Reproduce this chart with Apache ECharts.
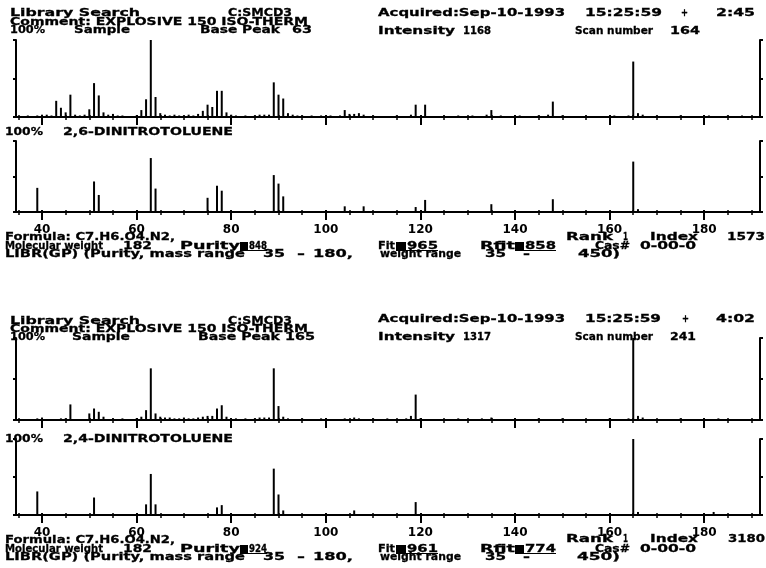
<!DOCTYPE html>
<html><head><meta charset="utf-8">
<script src="https://cdn.jsdelivr.net/npm/echarts@6/dist/echarts.min.js"></script>
<style>html,body{margin:0;padding:0;background:#fff}#c{width:766px;height:568px}</style>
</head><body><div id="c"></div>
<script>
// ---- data: sample scan 164 ----
const mzSample1 = [37,39,40,41,42,43,44,45,46,47,48,49,50,51,52,53,54,55,56,57,60,61,62,63,64,65,66,67,68,69,70,71,72,73,74,75,76,77,78,79,80,81,83,85,86,87,88,89,90,91,92,93,94,95,97,99,101,103,104,105,106,107,108,110,115,118,119,121,125,128,131,134,135,137,141,145,147,148,150,155,161,164,165,166,167,170,175,181,185,188];
const intSample1 = [2,2,3,3,2,21,12,6,29,3,2,3,10,44,28,6,3,4,2,2,2,9,23,100,26,5,3,2,3,2,2,3,2,4,8,16,13,34,34,6,3,2,2,2,3,3,3,45,29,24,5,3,2,2,2,2,2,2,9,4,4,5,3,2,2,3,16,16,2,2,2,3,9,2,2,2,3,20,2,2,2,2,72,5,3,2,2,2,2,2];
// ---- data: library 2,6-dinitrotoluene ----
const mzLib1 = [39,51,52,63,64,75,77,78,89,90,91,104,108,119,121,135,148,165,166];
const intLib1 = [34,43,24,76,33,20,37,30,52,40,22,8,8,7,17,11,18,71,4];
// ---- data: sample scan 241 ----
const mzSample2 = [39,40,44,45,46,50,51,52,53,55,57,60,61,62,63,64,65,66,67,68,69,70,71,72,73,74,75,76,77,78,79,81,83,85,86,87,88,89,90,91,92,95,99,104,106,107,110,113,117,118,119,120,128,133,135,145,150,160,164,165,166,167,175,183];
const intSample2 = [2,3,2,2,19,8,14,10,4,2,2,2,4,12,63,8,4,3,3,2,2,3,2,2,3,4,5,5,14,18,4,2,2,2,3,3,3,63,17,4,2,2,2,2,3,2,2,2,2,5,31,2,2,2,3,2,2,2,2,100,5,3,2,2];
// ---- data: library 2,4-dinitrotoluene ----
const mzLib2 = [39,51,62,63,64,77,78,89,90,91,106,119,165,166,182];
const intLib2 = [31,23,14,54,14,10,13,61,27,6,6,17,100,4,4];

const majorTicks = [40,60,80,100,120,140,160,180];
const minorTicks = [35,45,50,55,65,70,75,85,90,95,105,110,115,125,130,135,145,150,155,165,170,175,185,190];
const yTicks = [0,50,100];

// ---- layout ----
const X_MIN = 34.5, X_MAX = 191.8;
const panels = [
  {top:40,  h:77, labels:false, mz:mzSample1, it:intSample1},
  {top:141, h:71, labels:true,  mz:mzLib1,    it:intLib1},
  {top:338, h:82, labels:false, mz:mzSample2, it:intSample2},
  {top:439, h:76, labels:true,  mz:mzLib2,    it:intLib2}
];
const FONT = "bold 11px 'DejaVu Sans'";

const texts = [
  ["Library Search",10,140,13.5],["C:SMCD3",228,292,13.5],
  ["Acquired:Sep-10-1993",378,565,13.5],["15:25:59",585,662,13.5],["+",681,688,13.5],["2:45",716,755,13.5],
  ["Comment: EXPLOSIVE 150 ISO-THERM",10,308,22],
  ["100%",10,45,30.5],["Sample",74,130,30.5],["Base Peak",200,280,30.5],["63",292,312,30.5],
  ["Intensity",378,455,31],["1168",463,491,31],["Scan number",575,653,31],["164",670,700,31],

  ["100%",5,43,132],["2,6-DINITROTOLUENE",63,233,132],
  ["Formula: C7.H6.O4.N2,",5,175,237.5],["Rank",566,613,237.5],["1",623,628,237.5],["Index",650,698,237.5],["1573",727,765,237.5],
  ["Molecular weight",5,103,246],["182",123,152,246],["Purity",180,240,246],["Fit",378,395,246],["Rfit",480,515,246],["Cas#",595,630,246],["0-00-0",640,696,246],
  ["LIBR(GP) (Purity, mass range",5,245,254],["35",263,285,254],["-",297,305,254],["180,",313,353,254],
  ["weight range",380,461,254],["35",485,506,254],["-",523,530,254],["450)",578,620,254],

  ["Library Search",10,140,321],["C:SMCD3",228,292,321],
  ["Acquired:Sep-10-1993",378,565,319.5],["15:25:59",585,661,319.5],["+",682,689,319.5],["4:02",716,755,319.5],
  ["Comment: EXPLOSIVE 150 ISO-THERM",10,308,329],
  ["100%",10,45,337],["Sample",72,130,337],["Base Peak",198,280,337],["165",285,315,337],
  ["Intensity",378,455,337],["1317",463,491,337],["Scan number",575,653,337],["241",670,696,337],

  ["100%",5,43,438.7],["2,4-DINITROTOLUENE",63,233,438.7],
  ["Formula: C7.H6.O4.N2,",5,175,540.5],["Rank",566,613,539],["1",623,628,539],["Index",650,698,539],["3180",728,765,539],
  ["Molecular weight",5,103,549],["182",123,152,549],["Purity",180,240,549],["Fit",378,395,549],["Rfit",480,515,549],["Cas#",595,630,549],["0-00-0",640,696,549],
  ["LIBR(GP) (Purity, mass range",5,245,557.5],["35",263,285,557.5],["-",297,305,557.5],["180,",313,353,557.5],
  ["weight range",380,461,557.5],["35",485,506,557.5],["-",523,530,557.5],["450)",577,620,557.5]
];
// highlighted score boxes: [text, blockX0, blockX1, textX1, yCenter]
const boxes = [
  ["848",240,248,267,246],["965",396,406,438,246],["858",515,524,556,246],
  ["924",240,248,267,549],["961",396,406,438,549],["774",515,524,556,549]
];

const mctx = document.createElement('canvas').getContext('2d');
function measure(s){ mctx.font = FONT; return mctx.measureText(s).width; }
function textEl(s,x0,x1,y){
  const w = measure(s);
  return {type:'text', x:x0, y:y, scaleX:(x1-x0)/w, silent:true,
    style:{text:s, font:FONT, fill:'#000', stroke:'#000', lineWidth:0.3, align:'left', verticalAlign:'middle'}};
}
const graphic = [];
texts.forEach(t=>graphic.push(textEl(t[0],t[1],t[2],t[3])));
boxes.forEach(b=>{
  graphic.push({type:'rect', silent:true, shape:{x:b[1], y:b[4]-4, width:b[2]-b[1], height:8}, style:{fill:'#000'}});
  graphic.push(textEl(b[0], b[2]+1, b[3], b[4]));
  graphic.push({type:'line', silent:true, shape:{x1:b[1], y1:b[4]+4.5, x2:b[3], y2:b[4]+4.5}, style:{stroke:'#000', lineWidth:1}});
});

const grid=[], xAxis=[], yAxis=[], series=[];
panels.forEach((p,i)=>{
  grid.push({left:16, top:p.top, width:744, height:p.h});
  xAxis.push({type:'value', gridIndex:i, position:'bottom', min:X_MIN, max:X_MAX,
    axisLine:{show:true, onZero:false, lineStyle:{color:'#000', width:2}},
    axisTick:{show:false}, splitLine:{show:false},
    axisLabel:{show:p.labels, customValues:majorTicks, margin:12, color:'#000',
      fontFamily:'DejaVu Sans', fontWeight:'bold', fontSize:12}});
  xAxis.push({type:'value', gridIndex:i, position:'bottom', min:X_MIN, max:X_MAX, offset:-2,
    axisLine:{show:false, onZero:false}, splitLine:{show:false}, axisLabel:{show:false},
    axisTick:{show:true, inside:false, customValues:majorTicks, length:10, lineStyle:{color:'#000', width:2}}});
  xAxis.push({type:'value', gridIndex:i, position:'bottom', min:X_MIN, max:X_MAX, offset:-2,
    axisLine:{show:false, onZero:false}, splitLine:{show:false}, axisLabel:{show:false},
    axisTick:{show:true, inside:false, customValues:minorTicks, length:5, lineStyle:{color:'#000', width:1.5}}});
  ['left','right'].forEach(pos=>{
    yAxis.push({type:'value', gridIndex:i, min:0, max:100, position:pos,
      axisLine:{show:true, onZero:false, lineStyle:{color:'#000', width:2}},
      axisTick:{show:true, customValues:yTicks, length:3, lineStyle:{color:'#000', width:2}},
      axisLabel:{show:false}, splitLine:{show:false}});
  });
  series.push({type:'bar', xAxisIndex:3*i, yAxisIndex:2*i, barWidth:2, silent:true,
    itemStyle:{color:'#000'}, data:p.mz.map((m,k)=>[m,p.it[k]])});
});

const chart = echarts.init(document.getElementById('c'), null, {renderer:'canvas'});
chart.setOption({backgroundColor:'#fff', animation:false, grid, xAxis, yAxis, series, graphic});
</script></body></html>
